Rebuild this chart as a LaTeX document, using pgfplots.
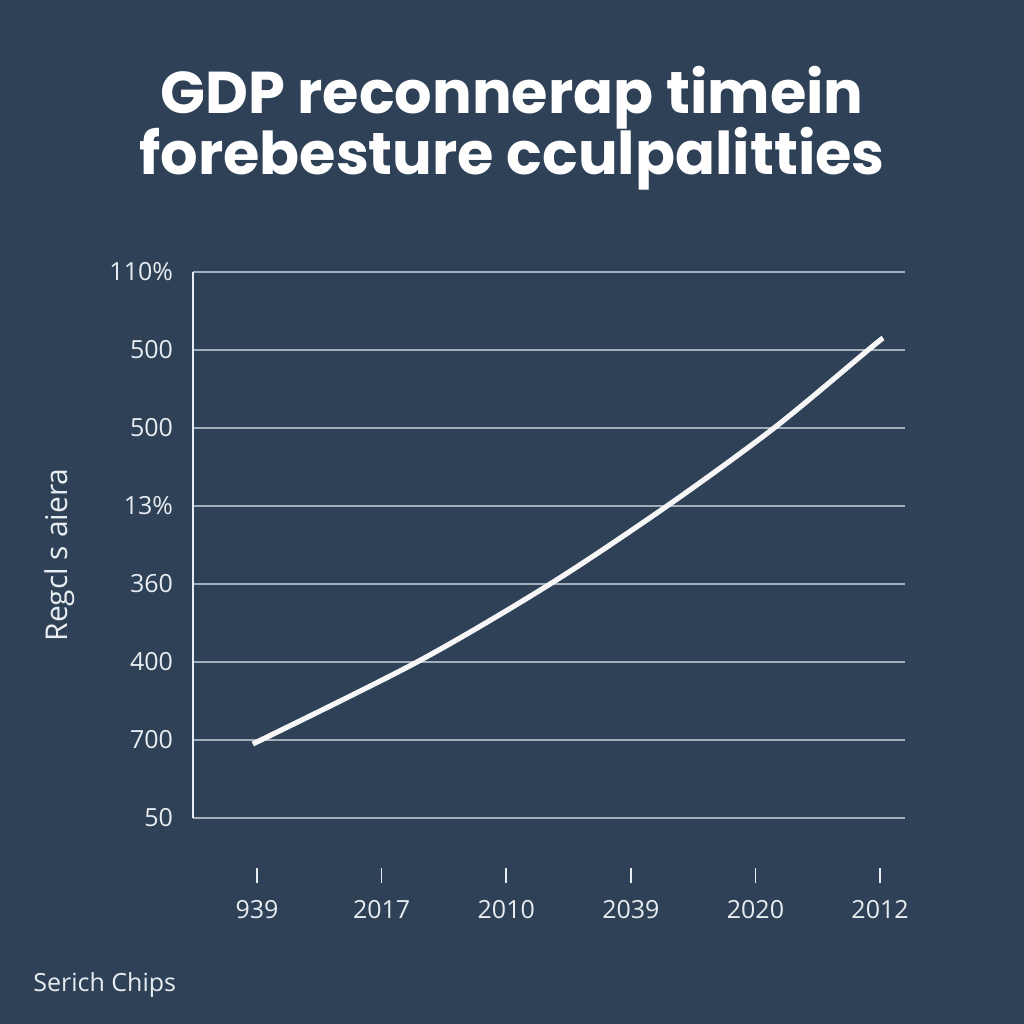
\documentclass[border=0pt]{standalone}
\usepackage{fontspec}
\setmainfont{Open Sans}
\newfontfamily\titlefont{Poppins}
\usepackage{pgfplots}
\pgfplotsset{compat=1.18}

\definecolor{bg}{HTML}{2E4157}
\definecolor{gridc}{HTML}{A3AEBB}
\definecolor{txt}{HTML}{E9EDF1}

\begin{document}
\begin{tikzpicture}[x=0.5pt,y=0.5pt]
% background, 1024 x 1024 px
\fill[bg] (0,0) rectangle (1024,-1024);

% title
\node[anchor=base, text=white, inner sep=0pt, font=\titlefont\fontsize{29.5}{34}\selectfont\bfseries] at (512,-113) {GDP reconnerap timein};
\node[anchor=base, text=white, inner sep=0pt, font=\titlefont\fontsize{29.5}{34}\selectfont\bfseries] at (512,-174) {forebesture cculpalitties};

\begin{axis}[
    at={(96.5pt,-409pt)}, anchor=south west,
    scale only axis,
    width=356pt, height=273pt,
    xmin=-0.514, xmax=5.2,
    ymin=0, ymax=7,
    axis lines*=left,
    x axis line style={draw=none},
    y axis line style={txt, line width=1pt},
    xtick={0,1,2,3,4,5},
    xticklabels={939,2017,2010,2039,2020,2012},
    ytick={0,1,2,3,4,5,6,7},
    yticklabels={50,700,400,360,13\%,500,500,110\%},
    ymajorgrids,
    major grid style={gridc, line width=0.75pt},
    tick align=outside,
    major tick length=7.5pt,
    xtick style={txt, line width=0.8pt, yshift=-25pt},
    ytick style={draw=none},
    xticklabel style={text=txt, font=\fontsize{12.5}{15}\selectfont, yshift=-30pt},
    yticklabel style={text=txt, font=\fontsize{12.5}{15}\selectfont, xshift=1pt},
    /pgf/number format/assume math mode=true,
    clip=false,
]
\addplot[color=white!94!gray, line width=2.6pt, smooth, tension=0.5] coordinates {
    (-0.034,0.949) (1.284,2) (2.352,3) (3.29,4) (4.149,5) (4.904,6) (5.024,6.154)
};
\end{axis}

% y label and footnote
\node[rotate=90, text=txt, font=\fontsize{15}{18}\selectfont] at (60,-555) {Regcl s aiera};
\node[anchor=base west, inner sep=0pt, text=txt, font=\fontsize{12.5}{15}\selectfont] at (33,-991) {Serich Chips};
\end{tikzpicture}
\end{document}
